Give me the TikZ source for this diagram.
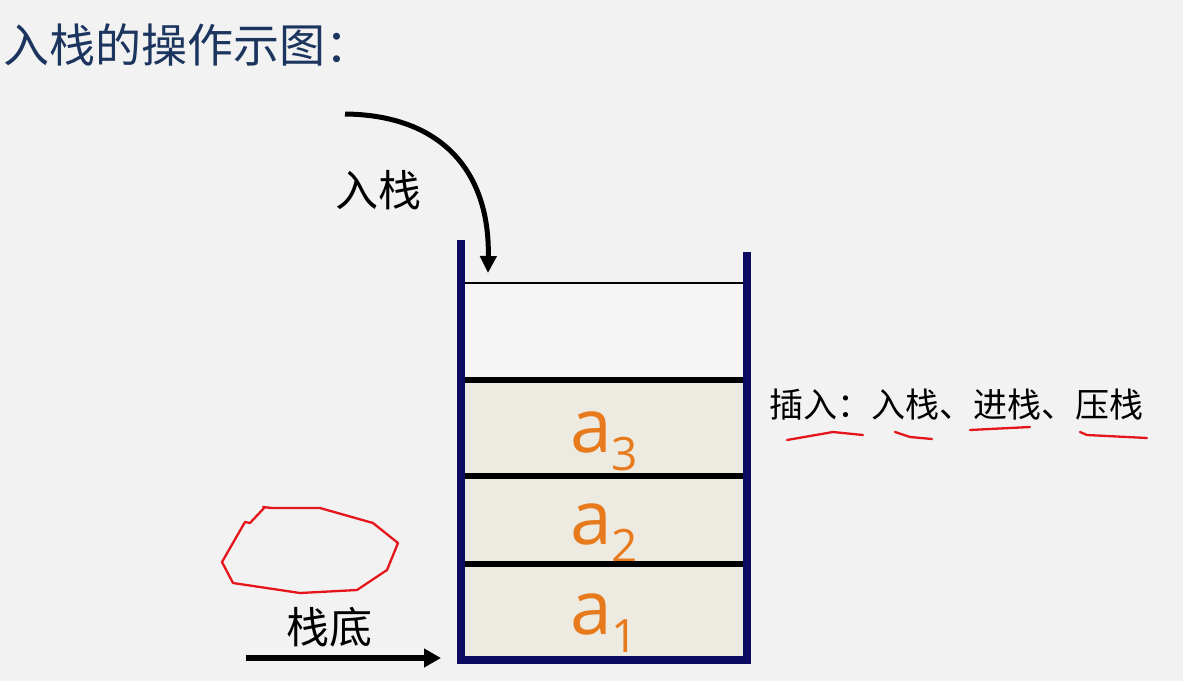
\documentclass[tikz,border=0pt]{standalone}
\usepackage{fontspec}
\setmainfont{Open Sans}
\newfontfamily\cjk{Noto Sans CJK SC}
\usepackage{tikz}
\usetikzlibrary{arrows.meta,positioning,calc}
\definecolor{bg}{HTML}{F2F2F2}
\definecolor{navy}{HTML}{0B0B62}
\definecolor{titleblue}{HTML}{1C355E}
\definecolor{cellfill}{HTML}{ECEAE1}
\definecolor{elem}{HTML}{E87A1E}
\definecolor{pen}{HTML}{E5161B}

\begin{document}
\begin{tikzpicture}[x=1pt,y=-1pt]
\fill[bg] (0,0) rectangle (1183,681);
\useasboundingbox (0,0) rectangle (1183,681);
% title
\node[anchor=west,inner sep=0,text=titleblue,font=\cjk\fontsize{46}{52}\selectfont] (title) at (3,45) {入栈的操作示图：};
% stack cells
\node[fill=white!25!bg,minimum width=286pt,minimum height=97pt,inner sep=0] (free) at (604,331.5) {};
\foreach \i/\y/\h in {1/610.5/93,2/520/88,3/428/96}
  {\node[fill=cellfill,minimum width=286pt,minimum height=\h pt,inner sep=0] (cell\i) at (604,\y) {};
   \node[anchor=base,inner sep=0,text=elem,font=\fontsize{75}{75}\selectfont] (a\i) at ([yshift=-24pt]cell\i.center) {a\raisebox{-18pt}{\fontsize{46}{46}\selectfont\i}};}
\draw[line width=2.6pt] (free.north west) -- (free.north east);
\foreach \i in {1,2,3} {\draw[line width=5.5pt] (cell\i.north west) -- (cell\i.north east);}
% walls
\draw[navy,line width=8.5pt] (461,240) -- (461,663);
\draw[navy,line width=8.5pt] (747,252) -- (747,663);
\draw[navy,line width=8.5pt] (457,660) -- (751,660);
% push arrow
\coordinate (pushfrom) at (345,114);
\coordinate (pushto) at (488,273);
\draw[line width=5pt,-{Triangle[length=17pt,width=16pt]}] (pushfrom) .. controls (440,115) and (490,170) .. (pushto);
\node[font=\cjk\fontsize{43}{43}\selectfont] (pushlab) at (378,190) {入栈};
% bottom arrow
\coordinate (basefrom) at (246,658);
\coordinate (baseto) at (441,658);
\draw[line width=6pt,-{Triangle[length=17pt,width=18pt]}] (basefrom) -- (baseto);
\node[font=\cjk\fontsize{43}{43}\selectfont] (baselab) at (329,627) {栈底};
% names
\node[anchor=west,inner sep=0,font=\cjk\fontsize{34}{34}\selectfont] (names) at (769,405) {插入：入栈、进栈、压栈};
% red pen marks
\draw[pen,line width=2.3pt,line join=round,line cap=round] (263,507) -- (272,508) -- (320,508) -- (373,523) -- (398,543) -- (387,570) -- (357,590) -- (300,593) -- (233,583) -- (222,562) -- (245,522) -- (250,523) -- (265,507);
\draw[pen,line width=2.3pt,line cap=round] (787,440) -- (833,432) -- (863,435);
\draw[pen,line width=2.3pt,line cap=round] (895,432) -- (910,437) -- (932,439);
\draw[pen,line width=2.3pt,line cap=round] (970,430) -- (1030,427);
\draw[pen,line width=2.3pt,line cap=round] (1080,432) -- (1087,435) -- (1147,438);
\end{tikzpicture}
\end{document}
